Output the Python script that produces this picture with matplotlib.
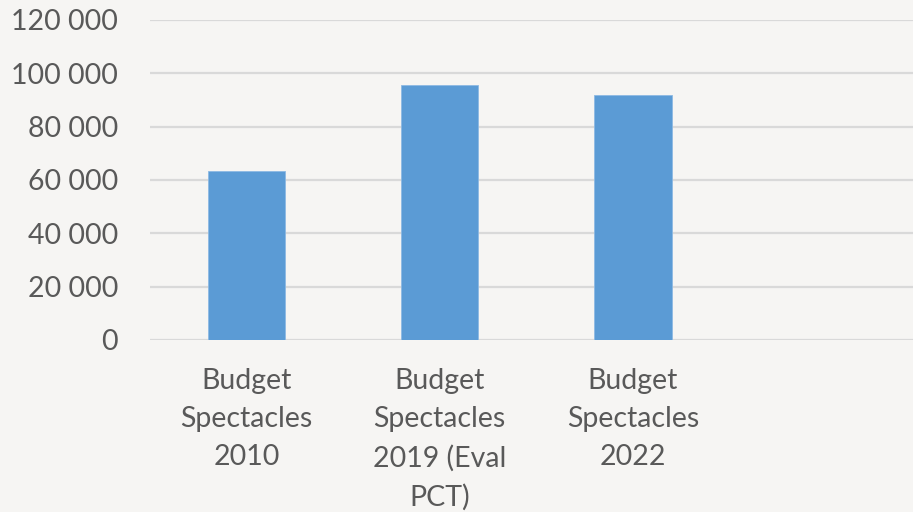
import matplotlib as mpl

mpl.use("Agg")

import matplotlib.pyplot as plt
from matplotlib.ticker import FuncFormatter

categories = [
    "Budget\nSpectacles\n2010",
    "Budget\nSpectacles\n2019 (Eval\nPCT)",
    "Budget\nSpectacles\n2022",
]
budgets = [63500, 95700, 91900]
y_ticks = [0, 20000, 40000, 60000, 80000, 100000, 120000]

BG = "#F6F5F3"
BAR = "#5B9BD5"
GRID = "#D9D9D9"
TEXT = "#595959"

plt.rcParams["font.family"] = ["Lato", "DejaVu Sans"]

fig = plt.figure(figsize=(9.13, 5.12), dpi=100, facecolor=BG)
ax = fig.add_axes([150 / 913, 172 / 512, 1 - 150 / 913, 320 / 512], facecolor=BG)

x = list(range(len(categories)))
ax.bar(x, budgets, width=0.4, color=BAR, edgecolor="#8DB9E3", linewidth=0.6, zorder=3)

ax.set_xlim(-0.5, 3.45)
ax.set_ylim(0, 120000)
ax.set_yticks(y_ticks)
ax.yaxis.set_major_formatter(FuncFormatter(lambda v, _: f"{int(v):,}".replace(",", " ")))
ax.grid(axis="y", color=GRID, linewidth=1.6, zorder=0)
ax.set_axisbelow(True)

ax.set_xticks(x)
ax.set_xticklabels(categories, fontsize=20.5, color=TEXT, linespacing=1.58, va="top")
ax.tick_params(axis="x", length=0, pad=20)
ax.tick_params(axis="y", length=0, pad=23, labelsize=20.5, labelcolor=TEXT)

for side in ["top", "right", "left", "bottom"]:
    ax.spines[side].set_visible(False)

fig.savefig("out.png", dpi=100, facecolor=BG)
